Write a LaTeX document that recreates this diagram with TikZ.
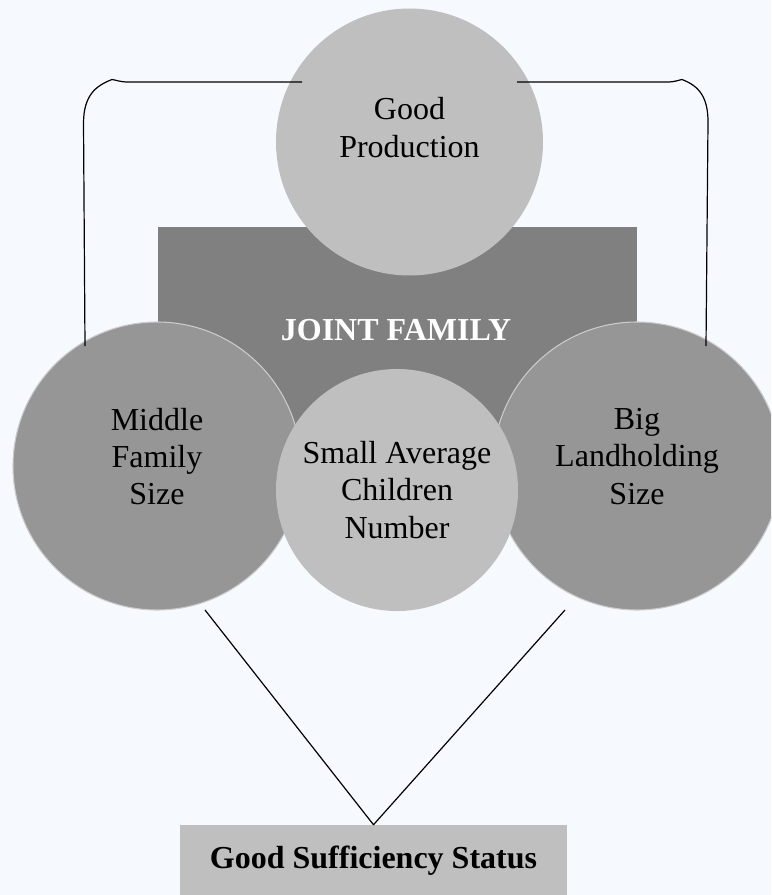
\documentclass[tikz,border=0pt]{standalone}
\usepackage{fontspec}
\setmainfont{Liberation Serif}
\definecolor{pagebg}{RGB}{246,250,254}
\definecolor{lightdisc}{RGB}{191,191,191}
\definecolor{sidedisc}{RGB}{150,150,150}
\definecolor{sideedge}{RGB}{204,204,204}
\definecolor{panel}{RGB}{128,128,128}
\begin{document}
\begin{tikzpicture}[x=0.75pt,y=-0.75pt,
  disc/.style={circle, inner sep=0pt, outer sep=0pt},
  lbl/.style={align=center, inner sep=0pt, font=\fontsize{24}{28}\selectfont},
  boldlbl/.style={align=center, inner sep=0pt, font=\fontsize{24}{28}\selectfont\bfseries},
  link/.style={line width=0.9pt, black, line join=round}]
% canvas
\fill[pagebg] (0,0) rectangle (771,895);
\useasboundingbox (0,0) rectangle (771,895);
\clip (0,0) rectangle (771,895);

% central panel
\node[fill=panel, minimum width=359.25pt, minimum height=189.75pt, inner sep=0pt, anchor=north west] (panel) at (158,227) {};

% discs
\node[disc, fill=lightdisc, minimum size=200.25pt] (gp) at (409.5,142) {};
\node[disc, fill=sidedisc, draw=sideedge, line width=0.8pt, minimum size=216pt] (mf) at (157,466) {};
\node[disc, fill=sidedisc, draw=sideedge, line width=0.8pt, minimum size=216pt] (bl) at (637,466) {};
\node[disc, fill=lightdisc, minimum size=181.5pt] (sa) at (397,490) {};

% labels
\node[boldlbl, text=white] (jf) at (396,330) {JOINT FAMILY};
\node[lbl] (gp-t) at ([yshift=10.9pt]gp.center) {Good\\Production};
\node[lbl] (mf-t) at ([yshift=7.1pt]mf.center) {Middle\\Family\\Size};
\node[lbl] (bl-t) at ([yshift=7.1pt]bl.center) {Big\\Landholding\\Size};
\node[lbl] (sa-t) at (sa.center) {Small Average\\Children\\Number};

% result box
\node[fill=lightdisc, minimum width=290.25pt, minimum height=54pt, inner sep=0pt, boldlbl] (gs) at (373.5,861) {Good Sufficiency Status};

% bracket ends
\coordinate (gpL) at (302,82);
\coordinate (gpR) at (517,82);
\coordinate (mfTop) at (85,346);
\coordinate (blTop) at (706,346);
% V ends
\coordinate (mfLow) at (205,610);
\coordinate (blLow) at (565,610);

% bracket joining the upper discs
\draw[link] (gpL) -- (128,82) .. controls (120,82) and (116,80) .. (112,79.5)
  .. controls (95,86) and (84,96) .. (83.5,122) -- (mfTop);
\draw[link] (gpR) -- (667,82) .. controls (675,82) and (679,80) .. (682,79.5)
  .. controls (699,86) and (708,97) .. (708,122) -- (blTop);

% V into the result box
\draw[link] (mfLow) -- (gs.north) -- (blLow);
\end{tikzpicture}
\end{document}
